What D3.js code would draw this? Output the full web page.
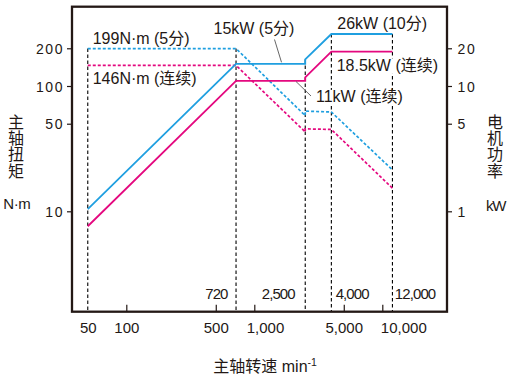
<!DOCTYPE html>
<html><head><meta charset="utf-8">
<script src="https://cdn.jsdelivr.net/npm/d3@7"></script>
<style>
body{margin:0;background:#fff}
text{font-family:"Liberation Sans",Arial,"Noto Sans CJK SC",sans-serif;fill:#231815}
</style>
</head><body><svg id="c" width="516" height="382"></svg>
<script>
// ---- data ----
const speeds       = [50, 720, 2500, 2500, 4000, 12000];
const torqueShort  = [199, 199, 58, 63, 62, 21.4];     // N·m (5分)
const torqueCont   = [146, 146, 43, 45.5, 45, 15.3];   // N·m (连续)
const powerShort   = [1.04, 15, 15, 16.3, 26, 26];     // kW (5分/10分)
const powerCont    = [0.76, 11, 11, 11.7, 18.8, 18.8]; // kW (连续)
const xTicks       = [50, 100, 500, 1000, 5000, 10000];
const xTickLabels  = ["50", "100", "500", "1,000", "5,000", "10,000"];
const torqueTicks  = [10, 50, 100, 200];
const powerTicks   = [1, 5, 10, 20];
const markSpeeds   = [50, 720, 2500, 4000, 12000];
const markLabels   = ["", "720", "2,500", "4,000", "12,000"];
const annotations  = ["199N·m (5分)", "146N·m (连续)", "15kW (5分)", "26kW (10分)", "18.5kW (连续)", "11kW (连续)"];

// ---- layout ----
const svg = d3.select("#c");
const F = {left:72, right:447, top:6.7, bottom:311.7};
const BLUE = "#1f9fe0", PINK = "#e4087f";
const x  = d3.scaleLog().domain([100, 10000]).range([126.3, 382.3]);
const yT = d3.scaleLog().domain([10, 100]).range([211.3, 86]);
const yP = d3.scaleLog().domain([1, 10]).range([211.3, 86]);

// vertical dashed guide lines
markSpeeds.forEach((s, k) => {
  const idx = speeds.map((v,i)=>v===s?i:-1).filter(i=>i>=0);
  const top = d3.min(idx, i => Math.min(yT(torqueShort[i]), yP(powerShort[i])));
  svg.append("line").attr("x1", x(s)).attr("x2", x(s)).attr("y1", top).attr("y2", F.bottom)
    .attr("stroke", "#000").attr("stroke-width", 1.1).attr("stroke-dasharray", "3.5,2.5");
  if (markLabels[k]) {
    const before = k < 3;
    const dx = [0, -8.5, -10.5, 4.3, 2.4][k];
    svg.append("text").attr("x", x(s) + dx).attr("y", 299)
      .attr("text-anchor", before ? "end" : "start")
      .style("font-size", "15px").style("letter-spacing", "-0.9px")
      .text(markLabels[k]);
  }
});

// series
const lineT = d3.line().x((d,i)=>x(speeds[i])).y(d=>yT(d));
const lineP = d3.line().x((d,i)=>x(speeds[i])).y(d=>yP(d));
svg.append("path").attr("d", lineT(torqueCont)).attr("fill","none").attr("stroke",PINK)
  .attr("stroke-width",1.7).attr("stroke-dasharray","3,2");
svg.append("path").attr("d", lineT(torqueShort)).attr("fill","none").attr("stroke",BLUE)
  .attr("stroke-width",1.7).attr("stroke-dasharray","3,2");
svg.append("path").attr("d", lineP(powerCont)).attr("fill","none").attr("stroke",PINK)
  .attr("stroke-width",1.8);
svg.append("path").attr("d", lineP(powerShort)).attr("fill","none").attr("stroke",BLUE)
  .attr("stroke-width",1.8);

// frame
svg.append("rect").attr("x",F.left).attr("y",F.top).attr("width",F.right-F.left)
  .attr("height",F.bottom-F.top).attr("fill","none").attr("stroke","#231815").attr("stroke-width",2.3);

// left axis
const gl = svg.append("g").attr("transform",`translate(${F.left},0)`)
  .call(d3.axisLeft(yT).tickValues(torqueTicks).tickFormat(d3.format("d")).tickSize(5).tickPadding(4.5));
gl.select(".domain").remove();
gl.selectAll("line").attr("stroke","#231815").attr("stroke-width",1.2);
gl.selectAll("text").attr("font-family",null).style("font-size","14px").style("letter-spacing","1.6px")
  .attr("dy","0.36em").attr("dx","1.6");

// right axis
const gr = svg.append("g").attr("transform",`translate(${F.right},0)`)
  .call(d3.axisRight(yP).tickValues(powerTicks).tickFormat(d3.format("d")).tickSize(5).tickPadding(5.5));
gr.select(".domain").remove();
gr.selectAll("line").attr("stroke","#231815").attr("stroke-width",1.2);
gr.selectAll("text").attr("font-family",null).style("font-size","14px").style("letter-spacing","1.6px")
  .attr("dy","0.36em");

// bottom axis
const labelShift = {1000: 10.7, 10000: 21};
const gb = svg.append("g").attr("transform",`translate(0,${F.bottom})`)
  .call(d3.axisBottom(x).tickValues(xTicks).tickFormat((d,i)=>xTickLabels[i]).tickSize(-7).tickPadding(10.5));
gb.select(".domain").remove();
gb.selectAll("line").attr("stroke","#231815").attr("stroke-width",1.2)
  .filter(d=>d===50).remove();
gb.selectAll("text").attr("font-family",null).style("font-size","15px")
  .attr("dx", d => labelShift[d] || 0);

// annotations (with white knockout behind text)
const annPos = [[92.7,43.6],[92.7,84.3],[213.5,33.6],[337.3,29.4],[336.7,70.8],[316,102.4]];
annotations.forEach((t,i)=>{
  const g = svg.append("g");
  const bg = g.append("rect").attr("fill","#fff");
  const tx = g.append("text").attr("x",annPos[i][0]).attr("y",annPos[i][1])
    .style("font-size","16px").text(t);
  const w = tx.node().getComputedTextLength();
  bg.attr("x",annPos[i][0]-1).attr("y",annPos[i][1]-12.5).attr("width",w+2).attr("height",15.5);
});
// leader lines
[[274.5,39.5,281.5,62.3],[296,81.5,311,96]].forEach(l=>{
  svg.append("line").attr("x1",l[0]).attr("y1",l[1]).attr("x2",l[2]).attr("y2",l[3])
    .attr("stroke","#555").attr("stroke-width",0.9);
});

// axis titles
function vtitle(str, cx, y0){
  const t = svg.append("text").attr("text-anchor","middle").style("font-size","16px");
  [...str].forEach((c,i)=>t.append("tspan").attr("x",cx).attr("y",y0+i*16.4).text(c));
}
vtitle("主轴扭矩", 16, 127.5);
vtitle("电机功率", 495, 127.5);
svg.append("text").attr("x",3.3).attr("y",209).style("font-size","15px").style("letter-spacing","-0.4px").text("N·m");
svg.append("text").attr("x",486).attr("y",210.7).style("font-size","15px").style("letter-spacing","-1.2px").text("kW");
const xt = svg.append("text").attr("x",213.3).attr("y",371.5).style("font-size","16px");
xt.append("tspan").text("主轴转速 min");
xt.append("tspan").attr("dy",-6).style("font-size","10.5px").text("-1");
</script>
</body></html>
